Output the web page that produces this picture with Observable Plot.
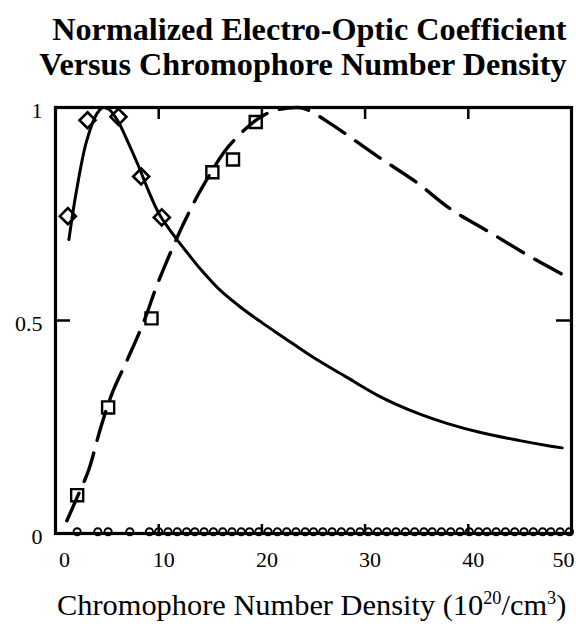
<!DOCTYPE html>
<html><head><meta charset="utf-8">
<script src="https://cdn.jsdelivr.net/npm/d3@7"></script>
<script src="https://cdn.jsdelivr.net/npm/@observablehq/plot@0.6"></script>
<style>
body{margin:0;background:#fff;}
#wrap{position:relative;width:576px;height:630px;overflow:hidden;}
#xlabel{position:absolute;left:57px;top:590px;white-space:nowrap;font-family:'Liberation Serif','Times New Roman',serif;font-size:30.4px;line-height:30.4px;color:#000;}
#xlabel sup{font-size:0.6em;vertical-align:baseline;position:relative;top:-0.6em;}
</style></head><body><div id="wrap"></div>
<script>
const titleLines = ["Normalized Electro-Optic Coefficient", "Versus Chromophore Number Density"];
const xTickFirst = [0];
const xTickMid = [10, 20, 30, 40];
const xTickLast = [50];
const yTickValues = [0, 0.5, 1];
const yTickLabels = ["0", "0.5", "1"];
const xInnerTicks = [10, 20, 30, 40];
const yInnerTicks = [0.5];

// solid fitted curve (diamond series)
const solidX = [1.3, 2.0, 3.0, 4.0, 4.6, 5.2, 6.0, 7.0, 8.0, 9.0, 10.0, 11.0, 12.0, 13.0, 14.0, 15.0, 16.0, 18.0, 20.0, 22.0, 25.0, 28.0, 31.4, 35.0, 38.0, 41.2, 45.0, 48.0, 49.1];
const solidY = [0.69, 0.80, 0.92, 0.985, 1.0, 0.995, 0.97, 0.92, 0.865, 0.805, 0.752, 0.715, 0.683, 0.652, 0.622, 0.595, 0.57, 0.53, 0.495, 0.462, 0.413, 0.37, 0.322, 0.283, 0.258, 0.237, 0.218, 0.205, 0.201];

// dashed fitted curve (square series)
const dashX = [1.1, 2.1, 3.2, 4.4, 5.5, 7.0, 8.6, 9.9, 12.4, 14.4, 17.0, 20.5, 23.5, 24.4, 26.9, 31.1, 35.0, 38.2, 42.0, 46.5, 49.0];
const dashY = [0.03, 0.085, 0.148, 0.25, 0.33, 0.41, 0.50, 0.587, 0.727, 0.82, 0.915, 0.986, 1.0, 0.995, 0.958, 0.887, 0.824, 0.763, 0.708, 0.643, 0.61];

// measured points
const diamondX = [1.2, 3.1, 6.1, 8.3, 10.3];
const diamondY = [0.745, 0.97, 0.978, 0.838, 0.742];
const squareX = [2.1, 5.1, 9.3, 15.2, 17.2, 19.4];
const squareY = [0.09, 0.296, 0.505, 0.848, 0.878, 0.966];

// near-zero series along the baseline
const zeroX = [2.1, 4.1, 5.1, 7.2, 9.1, 10.0, 10.9, 11.8, 12.7, 13.5, 14.4, 15.3, 16.2, 17.1, 18.0, 18.8, 19.7, 20.6, 21.5, 22.4, 23.3, 24.2, 25.0, 25.9, 26.8, 27.7, 28.6, 29.5, 30.3, 31.2, 32.1, 33.0, 33.9, 34.8, 35.7, 36.5, 37.4, 38.3, 39.2, 40.1, 41.0, 41.8, 42.7, 43.6, 44.5, 45.4, 46.3, 47.2, 48.0, 48.9, 49.8];
const zeroY = zeroX.map(() => 0.004);

const pts = (xs, ys) => xs.map((x, i) => ({x, y: ys[i]}));

const W = 576, H = 630;
const mT = 107, mB = 97, mL = 55, mR = 5;
const fH = H - mT - mB, fW = W - mL - mR;
const xAxisOpts = {anchor: "bottom", tickSize: 0, tickPadding: 18, fontSize: 22, label: null};

const chart = Plot.plot({
  width: W, height: H,
  marginTop: mT, marginBottom: mB, marginLeft: mL, marginRight: mR,
  x: {domain: [0, 50]},
  y: {domain: [0, 1]},
  style: {fontFamily: "'Liberation Serif','Times New Roman',serif", background: "white", color: "black"},
  marks: [
    Plot.dot(pts(zeroX, zeroY), {x: "x", y: "y", r: 3.6, stroke: "black", strokeWidth: 1.9, fill: "white"}),
    Plot.frame({stroke: "black", strokeWidth: 3.2}),
    Plot.ruleX(xInnerTicks, {x: d => d, insetTop: fH - 9, stroke: "black", strokeWidth: 2.5}),
    Plot.ruleX(xInnerTicks, {x: d => d, insetBottom: fH - 12, stroke: "black", strokeWidth: 2.5}),
    Plot.ruleY(yInnerTicks, {y: d => d, insetRight: fW - 15, stroke: "black", strokeWidth: 2.5}),
    Plot.ruleY(yInnerTicks, {y: d => d, insetLeft: fW - 15, stroke: "black", strokeWidth: 2.5}),
    Plot.axisX(xTickFirst, {...xAxisOpts, dx: 9}),
    Plot.axisX(xTickMid, {...xAxisOpts, dx: 5}),
    Plot.axisX(xTickLast, {...xAxisOpts, dx: -8}),
    Plot.axisY(yTickValues, {anchor: "left", tickSize: 0, tickPadding: 13, fontSize: 22, dy: 3, label: null,
      tickFormat: d => yTickLabels[yTickValues.indexOf(d)]}),
    Plot.line(pts(solidX, solidY), {x: "x", y: "y", curve: "catmull-rom", stroke: "black", strokeWidth: 3}),
    Plot.line(pts(dashX, dashY), {x: "x", y: "y", curve: "catmull-rom", stroke: "black", strokeWidth: 3.4, strokeDasharray: "30,13"}),
    Plot.dot(pts(diamondX, diamondY), {x: "x", y: "y", symbol: "diamond2", r: 7.2, stroke: "black", strokeWidth: 2.6, fill: "none"}),
    Plot.dot(pts(squareX, squareY), {x: "x", y: "y", symbol: "square", r: 6.8, stroke: "black", strokeWidth: 2.4, fill: "none"}),
    Plot.text([titleLines[0]], {text: d => d, frameAnchor: "top-right", dx: -5, dy: -68, lineAnchor: "bottom", textAnchor: "end", fontSize: 32.2, fontWeight: "bold", fill: "black"}),
    Plot.text([titleLines[1]], {text: d => d, frameAnchor: "top-right", dx: -5, dy: -33, lineAnchor: "bottom", textAnchor: "end", fontSize: 32.2, fontWeight: "bold", fill: "black"})
  ]
});
const wrap = document.getElementById("wrap");
wrap.appendChild(chart);
const xl = document.createElement("div");
xl.id = "xlabel";
xl.innerHTML = "Chromophore Number Density (10<sup>20</sup>/cm<sup>3</sup>)";
wrap.appendChild(xl);
</script>
</body></html>
